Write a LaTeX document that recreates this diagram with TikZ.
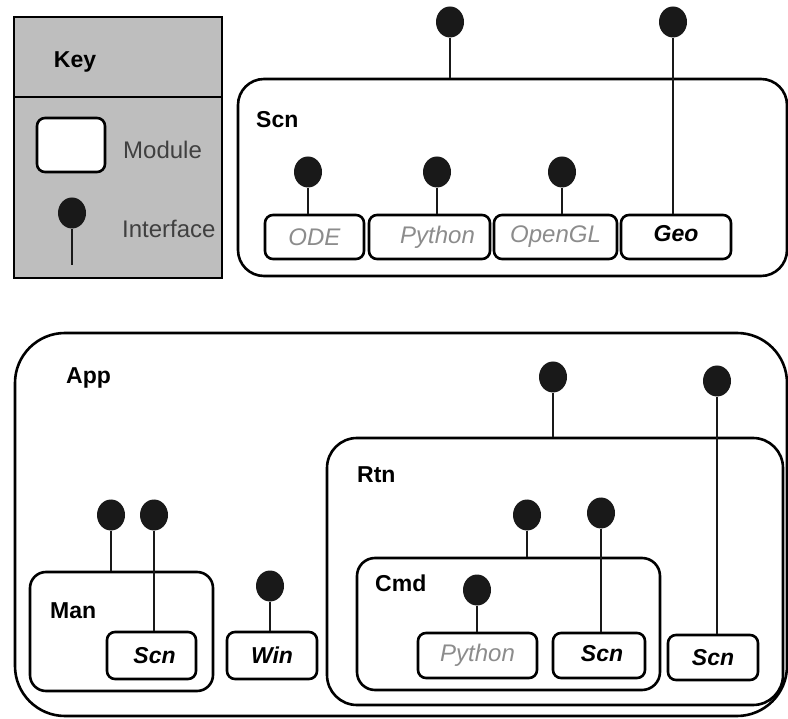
\documentclass[tikz,border=0pt]{standalone}
\usepackage{fontspec}
\setmainfont{Liberation Sans}
\usetikzlibrary{shapes.geometric}
\definecolor{keygray}{HTML}{BEBEBE}
\definecolor{txtgray}{HTML}{8C8C8C}
\definecolor{keytxt}{HTML}{404040}
\tikzset{
  modbox/.style={draw=black, line width=2.6pt, rectangle, rounded corners=#1, inner sep=0pt},
  modbox/.default=8pt,
  iface/.style={ellipse, fill=black!90, draw=none, minimum width=28pt, minimum height=31pt, inner sep=0pt},
  stem/.style={line width=2.6pt, draw=black!90},
  blabel/.style={anchor=west, inner sep=0pt, font=\fontsize{23}{26}\selectfont\bfseries},
  glabel/.style={inner sep=0pt, text=txtgray, font=\fontsize{24}{27}\selectfont\itshape},
  klabel/.style={inner sep=0pt, text=black, font=\fontsize{23}{26}\selectfont\bfseries\itshape},
  keytext/.style={anchor=west, inner sep=0pt, text=keytxt, font=\fontsize{24}{27}\selectfont}
}
\begin{document}
\begin{tikzpicture}[x=1pt,y=-1pt]
\useasboundingbox (0,0) rectangle (788,719);
% ---- Key ----
\node[draw=black, line width=2.6pt, fill=keygray, minimum width=208pt, minimum height=261pt, inner sep=0pt] (key) at (118,147.5) {};
\coordinate (divL) at (14,97);
\coordinate (divR) at (222,97);
\draw[line width=2.6pt] (divL) -- (divR);
\node[blabel, anchor=center] (keyt) at (75,62) {Key};
\node[modbox, fill=white, minimum width=68pt, minimum height=54pt] (keymod) at (71,145) {};
\node[keytext] (modt) at (123,150) {Module};
\node[iface] (keyif) at (72,213) {};
\coordinate (keyifend) at (72,265);
\draw[stem] (keyif) -- (keyifend);
\node[keytext] (ift) at (122,229) {Interface};
% ---- Scn ----
\node[modbox=26pt, minimum width=549pt, minimum height=197pt] (scn) at (512.5,177.5) {};
\node[blabel] (scnt) at (256,120) {Scn};
\node[modbox, minimum width=99pt, minimum height=44pt] (ode) at (314.5,237) {};
\node[glabel] at (ode) {ODE};
\node[modbox, minimum width=121pt, minimum height=44pt] (py) at (429.5,237) {};
\node[glabel] at ([xshift=8pt]py.center) {Python};
\node[modbox, minimum width=123pt, minimum height=44pt] (ogl) at (555.5,237) {};
\node[glabel] at (ogl) {OpenGL};
\node[modbox, minimum width=110pt, minimum height=44pt] (geo) at (676,237) {};
\node[klabel] at ([yshift=3pt]geo.center) {Geo};
\node[iface] (scnI1) at (450,22) {};
\node[iface] (scnI2) at (673,22) {};
\node[iface] (odeI) at (308,172) {};
\node[iface] (pyI) at (437,172) {};
\node[iface] (oglI) at (562,172) {};
\draw[stem] (scnI1) -- (scnI1 |- scn.north);
\draw[stem] (scnI2) -- (scnI2 |- geo.north);
\draw[stem] (odeI) -- (odeI |- ode.north);
\draw[stem] (pyI) -- (pyI |- py.north);
\draw[stem] (oglI) -- (oglI |- ogl.north);
% ---- App ----
\node[modbox=50pt, minimum width=772pt, minimum height=383pt] (app) at (401,524.5) {};
\node[blabel] (appt) at (66,378) {App};
\node[modbox=30pt, minimum width=456pt, minimum height=267pt] (rtn) at (555,571.5) {};
\node[blabel] (rtnt) at (357,475) {Rtn};
\node[modbox=18pt, minimum width=303pt, minimum height=132pt] (cmd) at (508.5,624) {};
\node[blabel] (cmdt) at (375,583) {Cmd};
\node[modbox, minimum width=119pt, minimum height=45pt] (py2) at (477.5,655.5) {};
\node[glabel] at (py2) {Python};
\node[modbox, minimum width=92pt, minimum height=45pt] (scn2) at (599,655.5) {};
\node[klabel] at ([xshift=3pt,yshift=2pt]scn2.center) {Scn};
\node[modbox, minimum width=90pt, minimum height=45pt] (scn3) at (713,657.5) {};
\node[klabel] at (scn3) {Scn};
\node[modbox=16pt, minimum width=183pt, minimum height=119pt] (man) at (121.5,631.5) {};
\node[blabel] (mant) at (50,611) {Man};
\node[modbox, minimum width=89pt, minimum height=47pt] (scnm) at (151.5,655.5) {};
\node[klabel] at ([xshift=3pt]scnm.center) {Scn};
\node[modbox, minimum width=90pt, minimum height=47pt] (win) at (272,655.5) {};
\node[klabel] at (win) {Win};
\node[iface] (appI1) at (553,377) {};
\node[iface] (appI2) at (717,381) {};
\node[iface] (rtnI1) at (527,515) {};
\node[iface] (rtnI2) at (601,513) {};
\node[iface] (cmdI) at (477,590) {};
\node[iface] (manI1) at (111,515) {};
\node[iface] (manI2) at (154,515) {};
\node[iface] (winI) at (270,586) {};
\draw[stem] (appI1) -- (appI1 |- rtn.north);
\draw[stem] (appI2) -- (appI2 |- scn3.north);
\draw[stem] (rtnI1) -- (rtnI1 |- cmd.north);
\draw[stem] (rtnI2) -- (rtnI2 |- scn2.north);
\draw[stem] (cmdI) -- (cmdI |- py2.north);
\draw[stem] (manI1) -- (manI1 |- man.north);
\draw[stem] (manI2) -- (manI2 |- scnm.north);
\draw[stem] (winI) -- (winI |- win.north);
\end{tikzpicture}
\end{document}
